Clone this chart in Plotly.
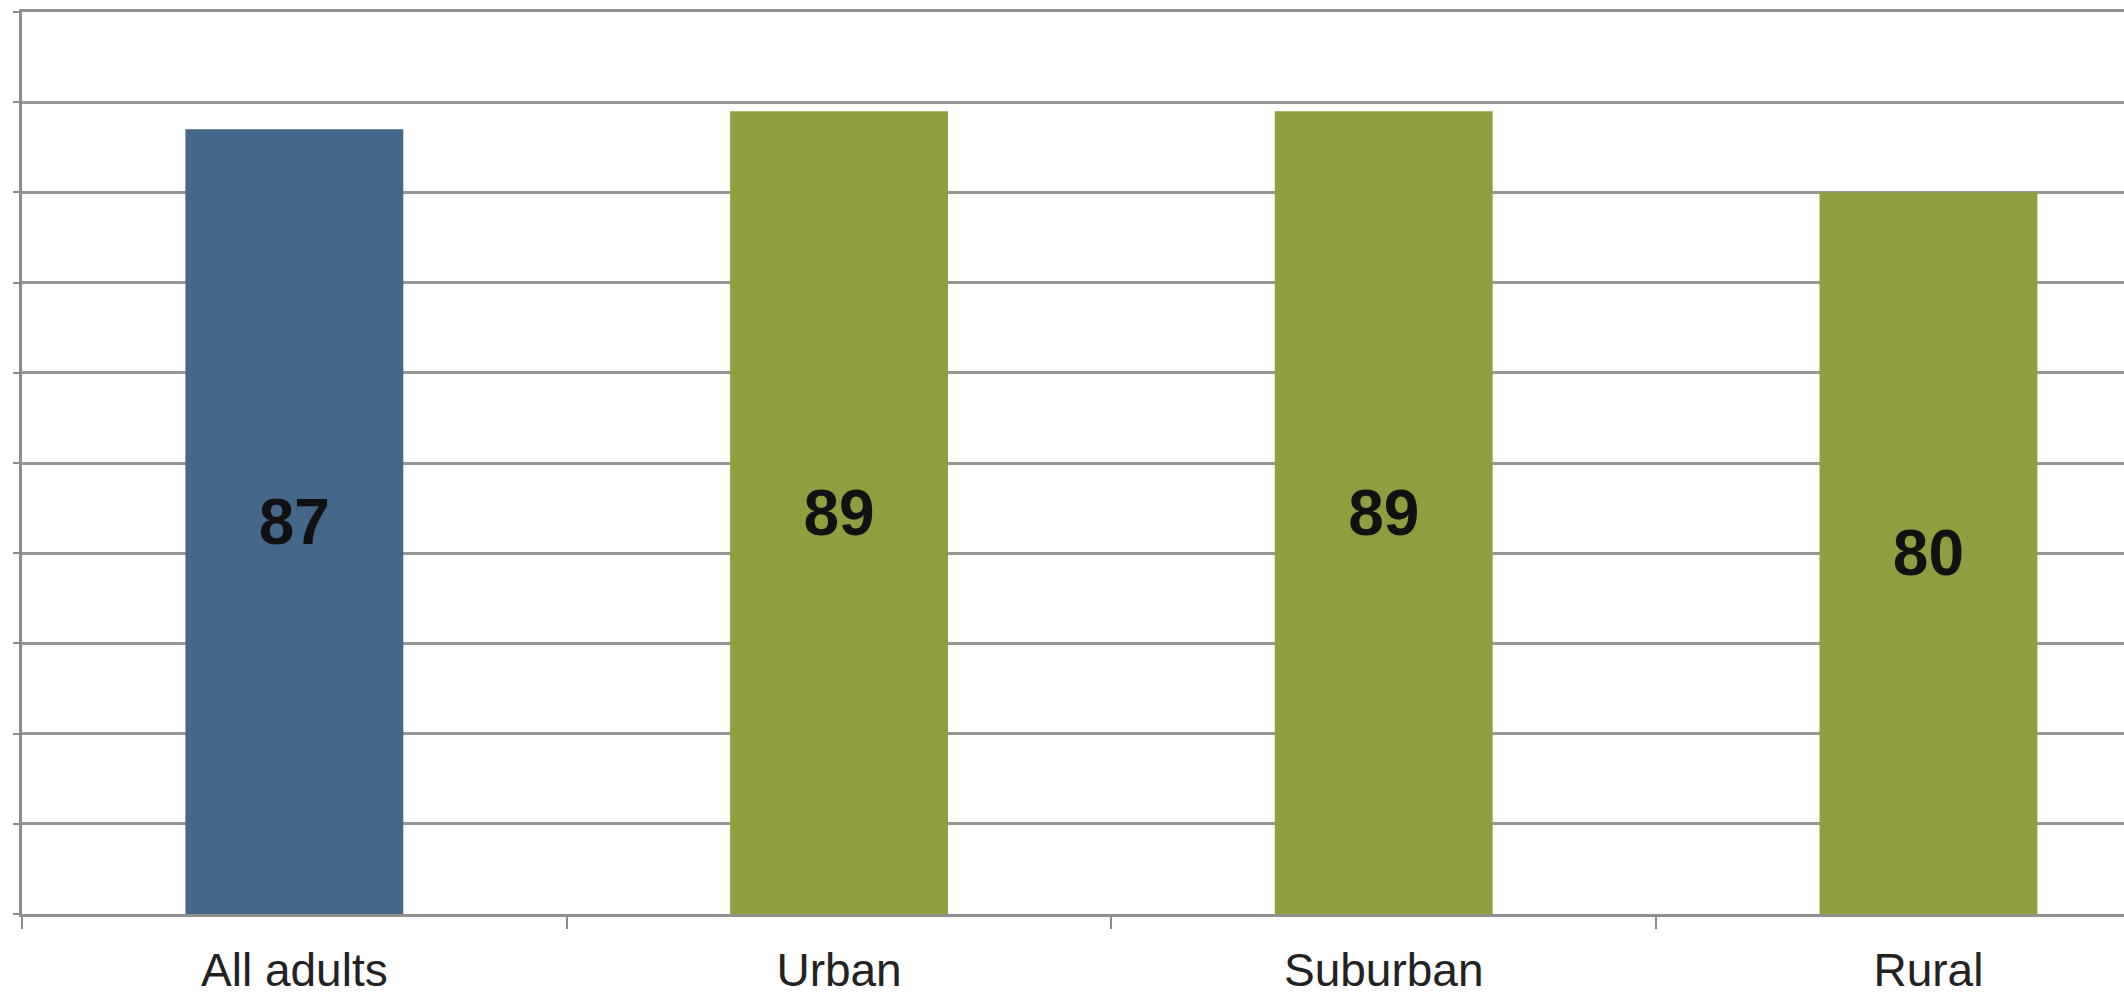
import plotly.graph_objects as go

# Share of adults, by community type
categories = ["All adults", "Urban", "Suburban", "Rural"]
values = [87, 89, 89, 80]
bar_colors = ["#45678A", "#8F9E3F", "#8F9E3F", "#8F9E3F"]
y_ticks = [0, 10, 20, 30, 40, 50, 60, 70, 80, 90, 100]

fig = go.Figure(
    go.Bar(
        x=categories,
        y=values,
        width=0.4,
        marker=dict(color=bar_colors, line=dict(width=0)),
        text=[str(v) for v in values],
        textposition="inside",
        insidetextanchor="middle",
        textangle=0,
        textfont=dict(family="Liberation Sans", size=64, color="#111111", weight="bold"),
        cliponaxis=False,
    )
)

fig.update_layout(
    width=2124,
    height=1004,
    margin=dict(l=22, r=0, t=12, b=90),
    paper_bgcolor="white",
    plot_bgcolor="white",
    showlegend=False,
    uniformtext=dict(mode=False),
)

fig.update_xaxes(
    range=[-0.5, 3.359],
    showline=True,
    mirror=True,
    linecolor="#909090",
    linewidth=3,
    ticks="outside",
    tickson="boundaries",
    ticklen=12,
    tickwidth=2,
    tickcolor="#8c8c8c",
    ticklabelstandoff=14,
    tickfont=dict(family="Liberation Sans", size=46, color="#222222"),
    showgrid=False,
    zeroline=False,
)

fig.update_yaxes(
    range=[0, 100],
    tickvals=y_ticks,
    showticklabels=False,
    ticks="outside",
    ticklen=6,
    tickwidth=2,
    tickcolor="#8c8c8c",
    showline=True,
    linecolor="#8c8c8c",
    linewidth=3,
    showgrid=True,
    gridcolor="#969696",
    gridwidth=3,
    zeroline=False,
)

fig.write_html("out.html")
